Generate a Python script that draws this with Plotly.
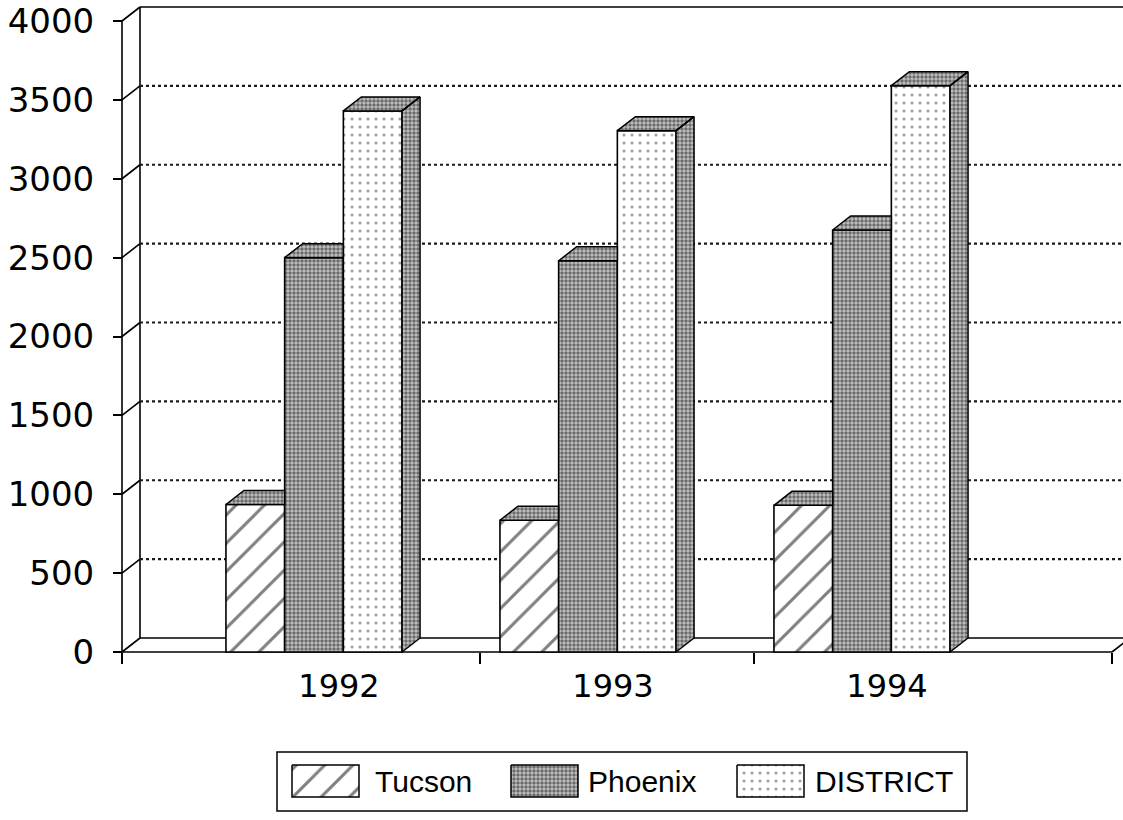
import plotly.graph_objects as go

# ---------------- data ----------------
years = [1992, 1993, 1994]
tucson = [935, 835, 930]
phoenix = [2500, 2480, 2675]
district = [3430, 3305, 3590]
series_names = ["Tucson", "Phoenix", "DISTRICT"]
y_tick_vals = [0, 500, 1000, 1500, 2000, 2500, 3000, 3500, 4000]
year_labels = ["1992", "1993", "1994"]

# ---------------- layout constants (pixels) ----------------
W, H = 1123, 820
K = 0.15775          # px per value unit
XU = 274.0           # px per year
X0_PX = 314.0        # pixel of first group's front centre
Y0_PX = 652.0        # pixel of value 0 on the front plane


def xv(px):
    return years[0] + (px - X0_PX) / XU


def yv(py):
    return (Y0_PX - py) / K


DX = 18 / XU          # depth offset in x units
DY = 14 / K           # depth offset in y units
BW = 58.7 / XU        # bar width
LABEL_SHIFT = 25 / XU
DIV_SHIFT = 166 / XU
X_FRONT = xv(122)
X_END = xv(1112)
X_MIN, X_MAX = xv(116), xv(1123)
Y_MIN, Y_MAX = yv(658), yv(3)

HATCH = dict(shape="/", size=20, solidity=0.15, fgcolor="black", bgcolor="white")
DENSE = dict(shape=".", size=4, solidity=0.6, fgcolor="#111111", bgcolor="#c4c4c4")
SPARSE = dict(shape=".", size=8, solidity=0.12, fgcolor="#444444", bgcolor="white")
front_patterns = [HATCH, DENSE, SPARSE]

all_series = [tucson, phoenix, district]

fig = go.Figure()

# front faces of the bars
for j, vals in enumerate(all_series):
    fig.add_trace(go.Bar(
        x=years, y=vals, width=BW, offset=(-1.5 + j) * BW,
        marker=dict(color="white", line=dict(color="black", width=1.6),
                    pattern=front_patterns[j]),
        name=series_names[j], showlegend=False, hoverinfo="skip",
        xaxis="x", yaxis="y"))

# top and side faces (3-D effect), derived from the data
tx, ty = [], []
for j, vals in enumerate(all_series):
    for i, yr in enumerate(years):
        v = vals[i]
        x0 = yr + (-1.5 + j) * BW
        x1 = x0 + BW
        nxt = all_series[j + 1][i] if j + 1 < len(all_series) else None
        if nxt is not None and nxt >= v + DY:
            tx += [x0, x1, x1, x0 + DX, x0, None]
            ty += [v, v, v + DY, v + DY, v, None]
        else:
            tx += [x0, x1, x1 + DX, x0 + DX, x0, None]
            ty += [v, v, v + DY, v + DY, v, None]
        if nxt is None or nxt < v:
            tx += [x1, x1, x1 + DX, x1 + DX, x1, None]
            ty += [0, v, v + DY, DY, 0, None]

fig.add_trace(go.Scatter(
    x=tx, y=ty, mode="lines", fill="toself", fillcolor="white",
    fillpattern=DENSE, line=dict(color="black", width=1.5),
    showlegend=False, hoverinfo="skip", xaxis="x", yaxis="y"))

# ---------------- frame (walls, floor, gridlines) ----------------
shapes = []


def seg(xa, ya, xb, yb, dash="solid", width=1.6, color="black", layer="below"):
    shapes.append(dict(type="line", xref="x", yref="y", x0=xa, y0=ya, x1=xb, y1=yb,
                       line=dict(color=color, width=width, dash=dash), layer=layer))


top = y_tick_vals[-1]
seg(X_FRONT, 0, X_FRONT, top)
seg(X_FRONT, top, X_FRONT + DX, top + DY)
seg(X_FRONT + DX, DY, X_FRONT + DX, top + DY)
seg(X_FRONT + DX, top + DY, X_MAX + 1, top + DY)
seg(X_FRONT, 0, X_END, 0)
seg(X_FRONT, 0, X_FRONT + DX, DY)
seg(X_FRONT + DX, DY, X_MAX + 1, DY)
seg(X_END, 0, X_END + DX, DY)
for v in y_tick_vals[1:-1]:
    seg(X_FRONT, v, X_FRONT + DX, v + DY)
    seg(X_FRONT + DX, v + DY, X_MAX + 1, v + DY, dash="dot", width=2.2, color="#1a1a1a")

# ---------------- legend (drawn on its own pixel-unit axes) ----------------
LX0, LX1, LY0, LY1 = 260, 985, 745, 818
shapes.append(dict(type="rect", xref="x2", yref="y2", x0=277, x1=967, y0=752, y1=811,
                   line=dict(color="black", width=1.5), fillcolor="rgba(0,0,0,0)"))
sw_x = [(292, 359), (511, 578), (737, 804)]
txt_x = [373, 586, 813]
for j in range(3):
    a, b = sw_x[j]
    fig.add_trace(go.Scatter(
        x=[a, b, b, a, a], y=[765, 765, 797, 797, 765], mode="lines", fill="toself",
        fillcolor="white", fillpattern=front_patterns[j],
        line=dict(color="black", width=1.5), showlegend=False, hoverinfo="skip",
        xaxis="x2", yaxis="y2"))

annotations = []
for j in range(3):
    annotations.append(dict(xref="x2", yref="y2", x=txt_x[j], y=781, text=series_names[j],
                            showarrow=False, xanchor="left", yanchor="middle",
                            font=dict(family="Liberation Sans, Arial, sans-serif",
                                      size=30, color="black")))

AX_FONT = dict(family="DejaVu Sans, Verdana, sans-serif", size=34, color="black")
XAX_FONT = dict(family="DejaVu Sans, Verdana, sans-serif", size=32, color="black")

fig.update_layout(
    width=W, height=H, autosize=False,
    margin=dict(l=0, r=0, t=0, b=0, pad=0),
    paper_bgcolor="white", plot_bgcolor="white",
    barmode="overlay", showlegend=False,
    shapes=shapes, annotations=annotations,
    xaxis=dict(domain=[116 / W, 1.0], range=[X_MIN, X_MAX], anchor="free",
               position=(H - Y0_PX) / H,
               tickmode="array", tickvals=[y + LABEL_SHIFT for y in years],
               ticktext=year_labels, ticks="", showgrid=False, zeroline=False,
               showline=False, tickfont=XAX_FONT, ticklabelstandoff=12,
               automargin=False,
               minor=dict(tickmode="array",
                          tickvals=[X_FRONT] + [y + DIV_SHIFT for y in years[:-1]] + [X_END],
                          ticks="outside", ticklen=11, tickwidth=1.5, tickcolor="black",
                          showgrid=False),
               fixedrange=True),
    yaxis=dict(domain=[(H - 658) / H, (H - 3) / H], range=[Y_MIN, Y_MAX], anchor="free",
               position=122 / W, tickmode="array", tickvals=y_tick_vals,
               ticks="outside", ticklen=9, tickwidth=1.5, tickcolor="black",
               showgrid=False, zeroline=False, showline=False, tickfont=AX_FONT,
               ticklabelstandoff=12, automargin=False, fixedrange=True),
    xaxis2=dict(domain=[LX0 / W, LX1 / W], range=[LX0, LX1], anchor="y2",
                visible=False, fixedrange=True),
    yaxis2=dict(domain=[(H - LY1) / H, (H - LY0) / H], range=[LY1, LY0], anchor="x2",
                visible=False, fixedrange=True),
)

fig.write_html(
    "out.html",
    config={"displayModeBar": False},
    post_script="document.documentElement.style.margin='0';document.body.style.margin='0';",
)
